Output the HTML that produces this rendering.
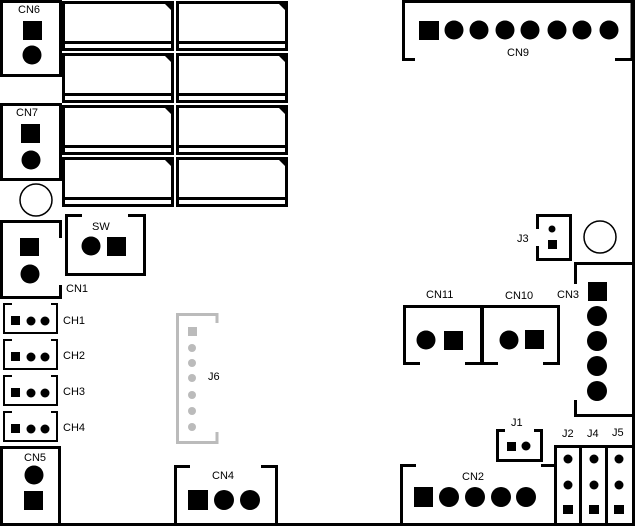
<!DOCTYPE html>
<html><head><style>
html,body{margin:0;padding:0;background:#fff;}
svg{display:block}
text{font-family:"Liberation Sans",sans-serif;font-size:11px;fill:#000}
</style></head><body>
<svg width="635" height="526" viewBox="0 0 635 526" xmlns="http://www.w3.org/2000/svg">
<rect width="635" height="526" fill="#fff"/>
<g fill="none" stroke="#000" stroke-width="3">
<line x1="0" y1="524.5" x2="635" y2="524.5"/>
<line x1="633.5" y1="0" x2="633.5" y2="526"/>
<rect x="1.5" y="1.5" width="59" height="74"/>
<rect x="1.5" y="104.5" width="59" height="75"/>
<path d="M60.5 238 V221.5 H1.5 V297.5 H60.5 V285"/>
<g>
<rect x="63.5" y="2.5" width="109" height="47"/><line x1="63" y1="42.5" x2="173" y2="42.5"/>
<rect x="177.5" y="2.5" width="109" height="47"/><line x1="177" y1="42.5" x2="287" y2="42.5"/>
<rect x="63.5" y="54.5" width="109" height="47"/><line x1="63" y1="94.5" x2="173" y2="94.5"/>
<rect x="177.5" y="54.5" width="109" height="47"/><line x1="177" y1="94.5" x2="287" y2="94.5"/>
<rect x="63.5" y="106.5" width="109" height="47"/><line x1="63" y1="146.5" x2="173" y2="146.5"/>
<rect x="177.5" y="106.5" width="109" height="47"/><line x1="177" y1="146.5" x2="287" y2="146.5"/>
<rect x="63.5" y="158.5" width="109" height="47"/><line x1="63" y1="198.5" x2="173" y2="198.5"/>
<rect x="177.5" y="158.5" width="109" height="47"/><line x1="177" y1="198.5" x2="287" y2="198.5"/>
</g>
<path d="M82 215.5 H66.5 V274.5 H144.5 V215.5 H128"/>
<g stroke-width="2">
<path d="M12 304 H4 V333 H57 V304 H51"/>
<path d="M12 340 H4 V369 H57 V340 H51"/>
<path d="M12 376 H4 V405 H57 V376 H51"/>
<path d="M12 412 H4 V441 H57 V412 H51"/>
</g>
<rect x="1.5" y="447.5" width="58" height="78"/>
<path d="M190 466.5 H175.5 V526 M276.5 526 V466.5 H261"/>
<path d="M415 59.5 H403.5 V1.5 H632 V59.5 H615"/>
<path d="M537.5 229 V215.5 H570.5 V259.5 H537.5 V246"/>
<path d="M575.5 284 V263.5 H634 M634 415.5 H575.5 V400"/>
<path d="M420 363.5 H404.5 V306.5 H481.5 V363.5 H465"/>
<path d="M498 363.5 H482.5 V306.5 H558.5 V363.5 H543"/>
<path d="M505 430.5 H497.5 V460.5 H541.5 V430.5 H534"/>
<rect x="555.5" y="446.5" width="78" height="78"/>
<line x1="580.5" y1="446" x2="580.5" y2="525"/>
<line x1="606.5" y1="446" x2="606.5" y2="525"/>
<path d="M416 465.5 H401.5 V526"/>
<line x1="541" y1="465.5" x2="556" y2="465.5"/>
</g>
<g fill="#000">
<path d="M164 3 L172 3 L172 11 Z"/><path d="M278 3 L286 3 L286 11 Z"/>
<path d="M164 55 L172 55 L172 63 Z"/><path d="M278 55 L286 55 L286 63 Z"/>
<path d="M164 107 L172 107 L172 115 Z"/><path d="M278 107 L286 107 L286 115 Z"/>
<path d="M164 159 L172 159 L172 167 Z"/><path d="M278 159 L286 159 L286 167 Z"/>
</g>
<g fill="none" stroke="#000" stroke-width="1.5">
<circle cx="36" cy="200" r="16"/>
<circle cx="600" cy="237" r="16"/>
</g>
<g stroke="#bbb" stroke-width="3" fill="none">
<path d="M217 323 V314.5 H177.5 V442.5 H217 V432"/>
</g>
<g fill="#bbb">
<rect x="188" y="327" width="9" height="9"/>
<circle cx="192" cy="348" r="4"/><circle cx="192" cy="363" r="4"/><circle cx="192" cy="378" r="4"/>
<circle cx="192" cy="395" r="4"/><circle cx="192" cy="411" r="4"/><circle cx="192" cy="427" r="4"/>
</g>
<g fill="#000">
<rect x="23" y="21" width="19" height="19"/><circle cx="32" cy="55" r="9.5"/>
<rect x="21" y="124" width="19" height="19"/><circle cx="31" cy="160" r="9.5"/>
<rect x="20" y="238" width="19" height="18"/><circle cx="30" cy="274" r="9.5"/>
<circle cx="91" cy="246" r="9.5"/><rect x="107" y="237" width="19" height="19"/>
<rect x="11" y="316" width="9" height="9"/><circle cx="31" cy="321" r="4.5"/><circle cx="45" cy="321" r="4.5"/>
<rect x="11" y="352" width="9" height="9"/><circle cx="31" cy="357" r="4.5"/><circle cx="45" cy="357" r="4.5"/>
<rect x="11" y="388" width="9" height="9"/><circle cx="31" cy="393" r="4.5"/><circle cx="45" cy="393" r="4.5"/>
<rect x="11" y="424" width="9" height="9"/><circle cx="31" cy="429" r="4.5"/><circle cx="45" cy="429" r="4.5"/>
<circle cx="34" cy="475" r="9.5"/><rect x="24" y="491" width="19" height="19"/>
<rect x="188" y="490" width="20" height="20"/><circle cx="224" cy="500" r="10"/><circle cx="250" cy="500" r="10"/>
<rect x="419" y="21" width="20" height="19"/>
<circle cx="454" cy="30" r="9.5"/><circle cx="479" cy="30" r="9.5"/><circle cx="505" cy="30" r="9.5"/>
<circle cx="530" cy="30" r="9.5"/><circle cx="557" cy="30" r="9.5"/><circle cx="582" cy="30" r="9.5"/><circle cx="609" cy="30" r="9.5"/>
<circle cx="552" cy="229" r="3.5"/><rect x="548" y="240" width="9" height="9"/>
<rect x="588" y="282" width="19" height="19"/>
<circle cx="597" cy="316" r="10"/><circle cx="597" cy="341" r="10"/><circle cx="597" cy="366" r="10"/><circle cx="597" cy="391" r="10"/>
<circle cx="426" cy="340" r="9.5"/><rect x="444" y="331" width="19" height="19"/>
<circle cx="509" cy="340" r="9.5"/><rect x="525" y="330" width="19" height="19"/>
<rect x="507" y="442" width="9" height="9"/><circle cx="526" cy="446" r="4.5"/>
<circle cx="568" cy="459" r="4.5"/><circle cx="568" cy="485" r="4.5"/><rect x="563" y="505" width="10" height="9"/>
<circle cx="594" cy="459" r="4.5"/><circle cx="594" cy="485" r="4.5"/><rect x="589" y="505" width="10" height="9"/>
<circle cx="619" cy="459" r="4.5"/><circle cx="619" cy="485" r="4.5"/><rect x="614" y="505" width="10" height="9"/>
<rect x="414" y="487" width="19" height="20"/>
<circle cx="449" cy="497" r="10"/><circle cx="475" cy="497" r="10"/><circle cx="501" cy="497" r="10"/><circle cx="526" cy="497" r="10"/>
</g>
<g>
<text x="18" y="13">CN6</text>
<text x="16" y="116">CN7</text>
<text x="66" y="292">CN1</text>
<text x="92" y="230">SW</text>
<text x="63" y="324">CH1</text>
<text x="63" y="359">CH2</text>
<text x="63" y="395">CH3</text>
<text x="63" y="431">CH4</text>
<text x="24" y="461">CN5</text>
<text x="208" y="380" fill="#222">J6</text>
<text x="212" y="479">CN4</text>
<text x="507" y="56">CN9</text>
<text x="517" y="242">J3</text>
<text x="557" y="298">CN3</text>
<text x="426" y="298">CN11</text>
<text x="505" y="299">CN10</text>
<text x="511" y="426">J1</text>
<text x="562" y="437">J2</text>
<text x="587" y="437">J4</text>
<text x="612" y="436">J5</text>
<text x="462" y="480">CN2</text>
</g>
</svg>
</body></html>
